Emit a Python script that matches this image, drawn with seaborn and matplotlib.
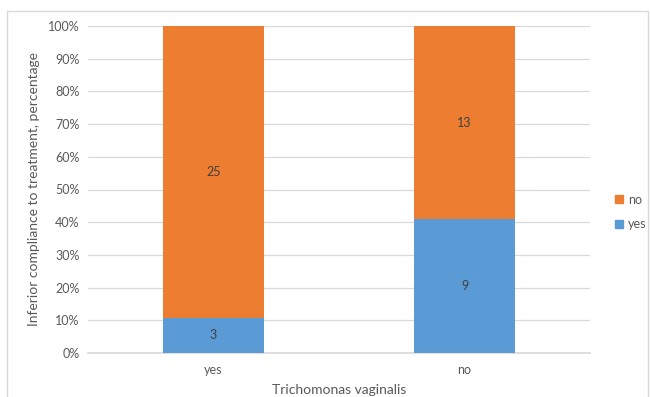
import matplotlib
matplotlib.use("Agg")
import matplotlib.pyplot as plt
import seaborn as sns
import pandas as pd
from matplotlib.patches import Rectangle, Patch

categories = ["yes", "no"]
yes_counts = [3, 9]
no_counts = [25, 13]
series_names = ["yes", "no"]
colors = {"yes": "#5B9BD5", "no": "#ED7D31"}

totals = [a + b for a, b in zip(yes_counts, no_counts)]
yes_pct = [100 * a / t for a, t in zip(yes_counts, totals)]
df = pd.DataFrame({"cat": categories, "yes": yes_pct,
                   "total": [100.0] * len(categories)})

sns.set_theme(style="white")
plt.rcParams["font.family"] = ["Lato", "DejaVu Sans"]

fig = plt.figure(figsize=(6.5, 3.97), dpi=100)
ax = fig.add_axes([88 / 650, 1 - 353 / 397, (590 - 88) / 650, (353 - 26) / 397])

sns.barplot(data=df, x="cat", y="total", color=colors["no"], width=0.4,
            ax=ax, zorder=2, saturation=1, linewidth=0)
no_container = ax.containers[-1]
sns.barplot(data=df, x="cat", y="yes", color=colors["yes"], width=0.4,
            ax=ax, zorder=3, saturation=1, linewidth=0)
yes_container = ax.containers[-1]

for rect, yp, n in zip(no_container, yes_pct, no_counts):
    cx = rect.get_x() + rect.get_width() / 2
    ax.text(cx, yp + (100 - yp) / 2, str(n), ha="center", va="center",
            fontsize=9, color="#404040", zorder=4)
ax.bar_label(yes_container, labels=[str(v) for v in yes_counts],
             label_type="center", fontsize=9, color="#404040", zorder=4)

ax.set_ylim(0, 100)
ax.set_xlim(-0.5, 1.5)
ax.set_yticks(range(0, 101, 10))
ax.set_yticklabels([f"{v}%" for v in range(0, 101, 10)])
ax.yaxis.grid(True, color="#D9D9D9", linewidth=0.9, zorder=0)
ax.set_axisbelow(True)
for s in ["top", "right", "left"]:
    ax.spines[s].set_visible(False)
ax.spines["bottom"].set_color("#D9D9D9")
ax.tick_params(axis="both", length=0, labelsize=9, colors="#595959", pad=6)
ax.tick_params(axis="x", pad=8)
ax.set_xlabel("Trichomonas vaginalis", fontsize=10, color="#595959", labelpad=6)
ax.set_ylabel("Inferior compliance to treatment, percentage", fontsize=10,
              color="#595959", labelpad=6)

handles = [Patch(color=colors["no"], label="no"), Patch(color=colors["yes"], label="yes")]
fig.legend(handles=handles, loc="center left", bbox_to_anchor=(604 / 650, 1 - 212 / 397),
           frameon=False, fontsize=9, handlelength=0.6, handleheight=0.6,
           handletextpad=0.4, labelspacing=1.0, labelcolor="#595959")

fig.patches.append(Rectangle((7 / 650, -0.02), (648 - 7) / 650, 1.02 - 11 / 397,
                             transform=fig.transFigure, fill=False,
                             edgecolor="#D9D9D9", linewidth=1))

fig.savefig("out.png", dpi=100)
